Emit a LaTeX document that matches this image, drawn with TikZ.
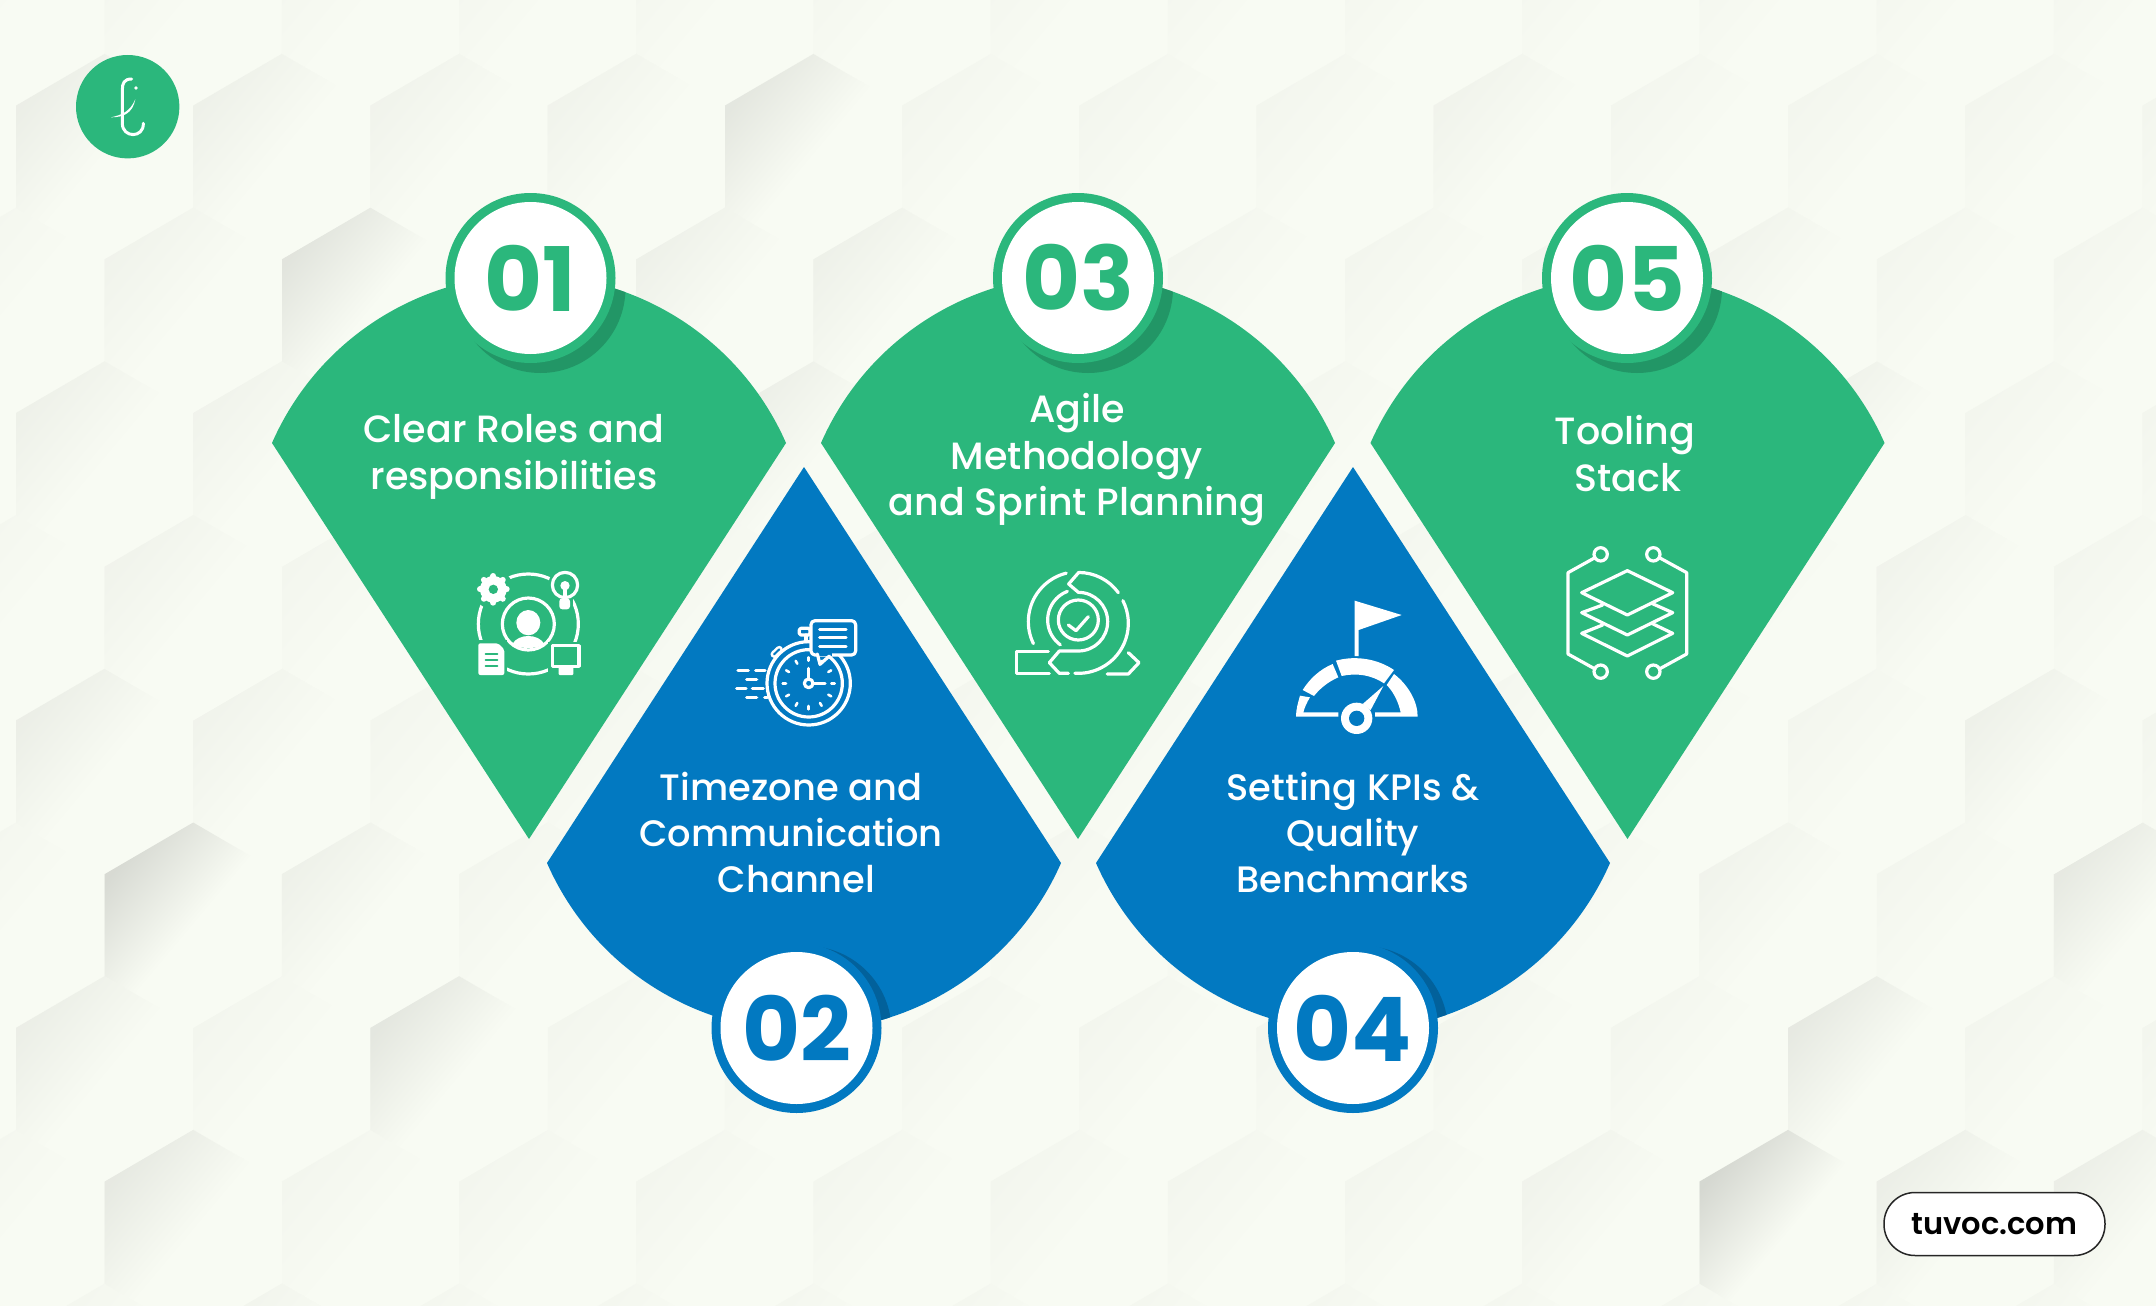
\documentclass[tikz,border=0pt]{standalone}
\usepackage{fontspec}
\setmainfont{Poppins}
\newfontfamily\popm{Poppins Medium}
\newfontfamily\pops{Poppins SemiBold}
\usetikzlibrary{calc}
\definecolor{bgc}{HTML}{F8FBF3}
\definecolor{grn}{HTML}{2BB77C}
\definecolor{grnd}{HTML}{229666}
\definecolor{blu}{HTML}{0279C1}
\definecolor{blud}{HTML}{02619B}
\tikzset{
 ttl/.style={text=white,align=center,font=\popm\fontsize{38}{46.5}\selectfont},
 ttlb/.style={text=white,align=center,font=\popm\fontsize{36.8}{46}\selectfont},
 num/.style={font=\bfseries\fontsize{89}{89}\selectfont},
 ic/.style={draw=white,line width=3.2pt,line cap=round,line join=round},
 icf/.style={fill=white},
 zoomed/.style={shift={#1},x=0.33333pt,y=-0.33333pt},
}
\newcommand\hexcell[3]{%
 \pgfmathsetmacro\hcx{193.2+177.2*#2-88.6*mod(abs(#1),2)}%
 \pgfmathsetmacro\hty{207.7+153.7*#1}%
 \shade[top color=black!#3!bgc,bottom color=bgc,middle color=bgc,shading angle=50]
  (\hcx,\hty) -- ++(88.6,51.7) -- ++(0,102) -- ++(-88.6,51.7) -- ++(-88.6,-51.7) -- ++(0,-102) -- cycle;}
\newcommand\grnpath{(272,443) arc[start angle=203.7,end angle=336.3,radius=280.7] -- (529,839) -- cycle}
\newcommand\blupath{(547,863) arc[start angle=156.3,end angle=23.7,radius=280.7] -- (804,467) -- cycle}
\newcommand\grnblock[3]{% offset, circle x, name
 \begin{scope}[shift={(#1,0)}]
  \fill[grn] \grnpath;
  \begin{scope}
   \clip \grnpath;
   \fill[grnd] (#2-#1+10,288) circle[radius=85];
  \end{scope}
 \end{scope}
 \fill[grn] (#2,278) circle[radius=85];
 \fill[white] (#2,278) circle[radius=76];
 \node[num,text=grn] (#3) at (#2,278) {#3};}
\newcommand\blublock[3]{%
 \begin{scope}[shift={(#1,0)}]
  \fill[blu] \blupath;
  \begin{scope}
   \clip \blupath;
   \fill[blud] (#2-#1+10,1031) circle[radius=85];
  \end{scope}
 \end{scope}
 \fill[blu] (#2,1028) circle[radius=85];
 \fill[white] (#2,1028) circle[radius=76];
 \node[num,text=blu] (#3) at (#2,1028) {#3};}
\begin{document}
\begin{tikzpicture}[x=1pt,y=-1pt]
\useasboundingbox (0,0) rectangle (2156,1306);
\fill[bgc] (0,0) rectangle (2156,1306);
% hexagon background
\foreach \r in {-2,...,8}{\foreach \k in {-1,...,12}{\hexcell{\r}{\k}{2}}}
\foreach \r/\k/\s in {-1/4/8,-1/0/5,-1/1/4,-1/2/3,-1/3/3,0/1/9,0/0/3,0/2/3,0/3/4,0/4/4,1/0/4,1/1/3,1/4/5,3/0/5,3/1/3,4/0/13,4/1/4,4/9/3,5/0/5,5/2/8,5/10/7,4/11/7,6/0/7,6/9/14,6/10/5,6/11/5,6/8/3,7/1/3,2/0/3,2/10/3,3/11/4,1/10/4,0/9/3,-1/8/3,1/8/3}{\hexcell{\r}{\k}{\s}}
% shapes
\grnblock{0}{530.5}{01}
\grnblock{549}{1078}{03}
\grnblock{1098.5}{1627}{05}
\blublock{0}{796.5}{02}
\blublock{549}{1353}{04}
% titles
\node[ttl] (t1) at (514,457) {Clear Roles and\\responsibilities};
\node[ttl] (t3) at (1077,460) {Agile\\Methodology\\and Sprint Planning};
\node[ttl] (t5) at (1625,453.5) {Tooling\\\hspace*{6pt}Stack};
\node[ttlb] (t2) at (791,832) {Timezone and\\Communication\\\hspace*{11pt}Channel};
\node[ttlb] (t4) at (1353,832) {Setting KPIs \&\\Quality\\Benchmarks};
% logo
\fill[grn] (127.7,106.7) circle[radius=51.7];
\begin{scope}[zoomed={(50,30)}]
 \draw[white,line width=3pt,line cap=round] (245,147) .. controls (222,147) and (217,160) .. (217,180) -- (217,280) .. controls (217,325) and (282,325) .. (280,280);
 \fill[white] (183,262) .. controls (215,255) and (240,245) .. (256,208) .. controls (248,250) and (220,262) .. cycle;
 \fill[white] (258,174) circle[radius=5.5];
\end{scope}
% pill
\node[draw=black!85,line width=1.5pt,fill=white,rounded corners=31pt,minimum width=221pt,minimum height=63pt,inner sep=0pt,text=black,font=\pops\fontsize{30.5}{30.5}\selectfont] (url) at (1994.5,1224) {tuvoc.com};
% icon 1: roles
\begin{scope}[zoomed={(430,550)}]
 \draw[ic] (295,222) circle[radius=150];
 \draw[ic] (295,222) circle[radius=78];
 \fill[white] (295,218) ellipse[x radius=36,y radius=38];
 \fill[white] (247,282) .. controls (265,250) and (325,250) .. (343,282) .. controls (320,298) and (270,298) .. cycle;
 \fill[grn] (190,118) circle[radius=60];
 \foreach \a in {0,45,...,315}{\draw[white,line width=6pt,line cap=round] (190,118) -- ++(\a:40);}
 \fill[white] (190,118) circle[radius=40];
 \fill[grn] (190,118) circle[radius=14];
 \fill[grn] (405,105) circle[radius=50];
 \fill[grn] (380,135) rectangle (430,185);
 \draw[ic] (405,105) circle[radius=38];
 \fill[white] (405,107) circle[radius=14];
 \draw[ic] (405,110) -- (405,160);
 \fill[white,rounded corners=3pt] (388,145) rectangle (420,178);
 \fill[grn] (135,270) rectangle (232,385);
 \fill[white,rounded corners=2pt] (145,280) -- (205,280) -- (223,298) -- (223,375) -- (145,375) -- cycle;
 \draw[grn,line width=2pt,line cap=round] (167,312) -- (202,312) (167,330) -- (202,330) (167,347) -- (202,347);
 \fill[grn] (355,275) rectangle (458,385);
 \draw[ic] (367,287) rectangle (447,349);
 \fill[white,rounded corners=1pt] (386,349) rectangle (430,375);
\end{scope}
% icon 2: stopwatch
\begin{scope}[zoomed={(710,600)}]
 \draw[ic] (296,250) circle[radius=125];
 \draw[ic] (296,250) circle[radius=101];
 \draw[ic] (288,105) -- (288,125);
 \draw[ic,rounded corners=1.5pt] (268,85) rectangle (300,105);
 \draw[white,line width=7pt,line cap=round] (192,163) -- (208,148);
 \draw[blu,line width=2pt,line cap=round] (192,163) -- (208,148);
 \foreach \a in {0,30,...,330}{\draw[white,line width=2.6pt,line cap=round] (296,250) ++(\a:68) -- ++(\a:10);}
 \draw[ic] (296,237) -- (296,205);
 \draw[ic] (310,250) -- (345,250);
 \draw[ic] (296,250) circle[radius=13];
 \draw[ic,fill=blu,rounded corners=4pt] (303,62) rectangle (437,165);
 \fill[blu] (320,155) rectangle (365,168);
 \draw[ic] (322,162) -- (330,193) -- (358,168);
 \draw[ic] (329,88) -- (408,88) (329,113) -- (408,113) (329,140) -- (408,140);
 \draw[ic] (84,211) -- (115,211) (137,211) -- (165,211) (110,238) -- (140,238) (80,265) -- (108,265) (127,265) -- (160,265) (110,292) -- (140,292) (164,292) -- (172,292);
\end{scope}
% icon 3: sprint
\begin{scope}[zoomed={(1000,560)}]
 \draw[ic] (235,185) ++(154:150) arc[start angle=154,end angle=256,radius=150];
 \draw[ic] (235,180) ++(126:92) arc[start angle=126,end angle=249,radius=92];
 \draw[ic] (355,98) arc[start angle=324,end angle=270,radius=147] -- (206,72) -- (235,97) arc[start angle=-90,end angle=90,radius=88] -- (178,273) -- (148,308) -- (178,340) -- (205,340);
 \draw[ic] (235,190) ++(333:150) arc[start angle=333,end angle=454,radius=150];
 \draw[ic] (235,180) circle[radius=60];
 \draw[ic] (205,195) -- (228,212) -- (265,170);
 \draw[ic] (145,275) -- (50,275) -- (50,340) -- (148,340);
 \draw[ic] (385,278) -- (417,308) -- (385,342) -- (322,342);
\end{scope}
% icon 4: KPI gauge
\begin{scope}[zoomed={(1270,590)}]
 \fill[white] (254,32) -- (395,75) -- (266,120) -- (266,198) -- (254,198) -- cycle;
 \fill[white] (78,380) .. controls (78,358) and (84,338) .. (90,317) -- (120,322) .. controls (110,338) and (104,352) .. (100,367) -- (205,367) -- (205,380) -- cycle;
 \fill[white] (98,300) .. controls (120,265) and (150,238) .. (188,222) -- (205,262) .. controls (175,275) and (150,295) .. (132,318) -- cycle;
 \fill[white] (198,212) .. controls (260,195) and (325,208) .. (372,240) -- (342,280) .. controls (305,255) and (260,248) .. (215,258) -- cycle;
 \fill[white] (372,252) .. controls (415,285) and (443,335) .. (443,380) -- (315,380) -- (315,367) -- (392,367) .. controls (385,335) and (370,305) .. (350,285) -- cycle;
 \fill[white] (278,342) -- (340,288) -- (302,360) -- cycle;
 \fill[white] (260,385) circle[radius=47];
 \fill[blu] (260,385) circle[radius=23];
\end{scope}
% icon 5: stack
\begin{scope}[zoomed={(1540,530)}]
 \draw[ic] (182,73) circle[radius=20] (182,425) circle[radius=20] (340,73) circle[radius=20] (340,425) circle[radius=20];
 \draw[ic] (165,83) -- (84,128) -- (84,372) -- (165,417);
 \draw[ic] (358,83) -- (440,128) -- (440,372) -- (358,417);
 \draw[ic] (262,122) -- (398,188) -- (262,255) -- (125,188) -- cycle;
 \draw[ic] (188,225) -- (125,248) -- (262,315) -- (398,248) -- (335,220);
 \draw[ic] (188,285) -- (125,310) -- (262,378) -- (398,310) -- (335,280);
\end{scope}
\end{tikzpicture}
\end{document}
